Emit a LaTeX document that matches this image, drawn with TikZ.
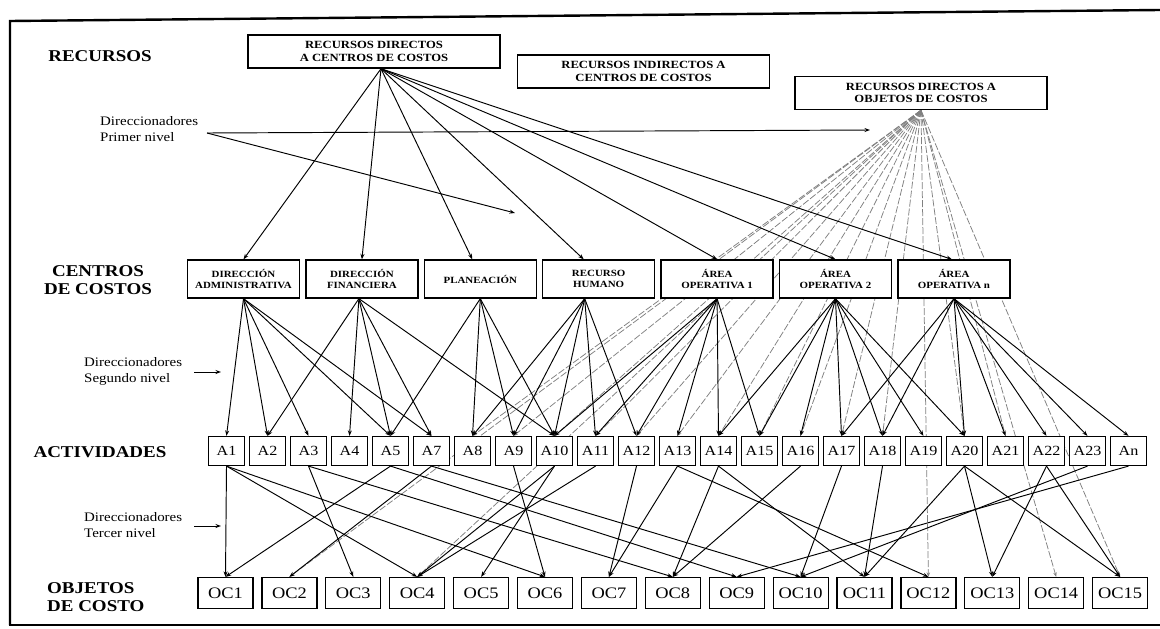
\documentclass[tikz,border=0pt]{standalone}
\usepackage{fontspec}
\setmainfont{Liberation Serif}[FakeStretch=1.15]
\usetikzlibrary{arrows.meta}
\pgfdeclarelayer{bgl}
\pgfdeclarelayer{lines}
\pgfsetlayers{bgl,lines,main}
\tikzset{
 topbox/.style={draw, line width=1.4pt, fill=white, minimum width=252pt, minimum height=33pt, align=center, font=\fontsize{11}{12.5}\selectfont\bfseries, inner sep=1pt},
 ccbox/.style={draw, line width=1.3pt, fill=white, minimum width=112pt, minimum height=38pt, align=center, font=\fontsize{9.5}{10.5}\selectfont\bfseries, inner sep=1pt},
 abox/.style={draw, line width=1.2pt, fill=white, minimum width=36pt, minimum height=29pt, font=\fontsize{14}{16}\selectfont, inner sep=1pt},
 ocbox/.style={draw, line width=1.2pt, fill=white, minimum width=55pt, minimum height=31pt, font=\fontsize{16}{18}\selectfont, inner sep=1pt},
 lvl/.style={font=\fontsize{16.5}{18}\selectfont\bfseries, align=center, inner sep=0pt},
 note/.style={font=\fontsize{13}{16}\selectfont, align=left, anchor=west, inner sep=0pt},
 arr/.style={draw, line width=0.95pt, -{Stealth[length=5.5pt,width=4pt]}},
 fan/.style={draw=black!50, line width=0.75pt, dash pattern=on 7pt off 2pt, -{Stealth[length=4.5pt,width=3.4pt]}},
 frame/.style={line width=2.4pt},
}
\begin{document}
\begin{tikzpicture}[x=1pt,y=-1pt]
\begin{pgfonlayer}{bgl}
\fill[white] (0,0) rectangle (1160,629);
\end{pgfonlayer}
\useasboundingbox (0,0) rectangle (1160,629);
% frame
\draw[frame] (10,625) -- (10,21) -- (1160,10);
\draw[frame] (8.8,625) -- (1160,625);

% level labels
\node[lvl] (lRec) at (100,56) {RECURSOS};
\node[note] (lN1) at (100,129) {Direccionadores\\Primer nivel};
\node[lvl] (lCC) at (98,280) {CENTROS\\DE COSTOS};
\node[note] (lN2) at (84,371) {Direccionadores\\Segundo nivel};
\node[lvl] (lAct) at (100,452) {ACTIVIDADES};
\node[note] (lN3) at (84,525) {Direccionadores\\Tercer nivel};
\node[lvl, align=left, anchor=west] (lOC) at (47,597) {OBJETOS\\DE COSTO};

\coordinate (p0) at (207,133);
\coordinate (p1) at (870,130);
\coordinate (p2) at (515,213);
\coordinate (s0) at (194,372);
\coordinate (s1) at (221,372);
\coordinate (t0) at (194,526);
\coordinate (t1) at (221,526);

% resource boxes
\node[topbox] (RDCC) at (374,51.5) {RECURSOS DIRECTOS\\A CENTROS DE COSTOS};
\node[topbox] (RICC) at (643.5,71.5) {RECURSOS INDIRECTOS A\\CENTROS DE COSTOS};
\node[topbox] (RDOC) at (921,93) {RECURSOS DIRECTOS A\\OBJETOS DE COSTOS};

% cost centers
\node[ccbox] (cc1) at (243.5,279) {DIRECCIÓN\\ADMINISTRATIVA};
\node[ccbox] (cc2) at (361.9,279) {DIRECCIÓN\\FINANCIERA};
\node[ccbox] (cc3) at (480.3,279) {PLANEACIÓN};
\node[ccbox] (cc4) at (598.7,279) {RECURSO\\HUMANO};
\node[ccbox] (cc5) at (717.1,279) {ÁREA\\OPERATIVA 1};
\node[ccbox] (cc6) at (835.5,279) {ÁREA\\OPERATIVA 2};
\node[ccbox] (cc7) at (954,279) {ÁREA\\OPERATIVA n};

% activities
\foreach \lab [count=\k from 0] in {A1,A2,A3,A4,A5,A7,A8,A9,A10,A11,A12,A13,A14,A15,A16,A17,A18,A19,A20,A21,A22,A23,An}
  \node[abox] (\lab) at ({226.5+41*\k},451) {\lab};

% cost objects
\foreach \j in {1,...,15}
  \node[ocbox] (OC\j) at ({225.5+63.9*(\j-1)},593) {OC\j};

\begin{pgfonlayer}{lines}
% direct resources to cost objects (grey fan)
\foreach \t in {A8,OC2,A9,A10,OC4,A11,A12,A13,A14,A15,A16,A17,A18,OC12,A20,A21,OC14,OC15}
  \draw[fan] (RDOC.south) -- (\t.north);
% first level
\draw[arr] (p0) -- (p1);
\draw[arr] (p0) -- (p2);
\draw[arr] ([xshift=7pt]RDCC.south) -- (cc1.north);
\draw[arr] ([xshift=7pt]RDCC.south) -- (cc2.north);
\draw[arr] ([xshift=7pt]RDCC.south) -- ([xshift=-8pt]cc3.north);
\draw[arr] ([xshift=7pt]RDCC.south) -- ([xshift=-15pt]cc4.north);
\draw[arr] ([xshift=7pt]RDCC.south) -- (cc5.north);
\draw[arr] ([xshift=7pt]RDCC.south) -- (cc6.north);
\draw[arr] ([xshift=7pt]RDCC.south) -- ([xshift=-2pt]cc7.north);
% second level
\draw[arr] (s0) -- (s1);
\foreach \t in {A1,A2,A3,A5,A7} \draw[arr] (cc1.south) -- (\t.north);
\foreach \t in {A2,A4,A5,A7,A10} \draw[arr] ([xshift=-3pt]cc2.south) -- (\t.north);
\foreach \t in {A5,A8,A9,A10} \draw[arr] (cc3.south) -- (\t.north);
\foreach \t in {A8,A9,A10,A11,A12} \draw[arr] ([xshift=-14pt]cc4.south) -- (\t.north);
\foreach \t in {A10,A11,A12,A13,A14,A15} \draw[arr] (cc5.south) -- (\t.north);
\foreach \t in {A14,A15,A16,A17,A18,A19,A20} \draw[arr] (cc6.south) -- (\t.north);
\foreach \t in {A17,A18,A20,A21,A22,A23,An} \draw[arr] (cc7.south) -- (\t.north);
% third level
\draw[arr] (t0) -- (t1);
\foreach \s/\t in {A1/OC1,A5/OC1,A7/OC2,A3/OC3,A1/OC4,A10/OC4,A11/OC4,A10/OC5,A1/OC6,A9/OC6,A12/OC7,A13/OC7,A3/OC8,A14/OC8,A16/OC8,A5/OC9,An/OC9,A7/OC10,A17/OC10,A23/OC10,A14/OC11,A18/OC11,A20/OC11,A13/OC12,A20/OC13,A22/OC13,A20/OC15,A22/OC15}
  \draw[arr] (\s.south) -- (\t.north);
\end{pgfonlayer}
\end{tikzpicture}
\end{document}
